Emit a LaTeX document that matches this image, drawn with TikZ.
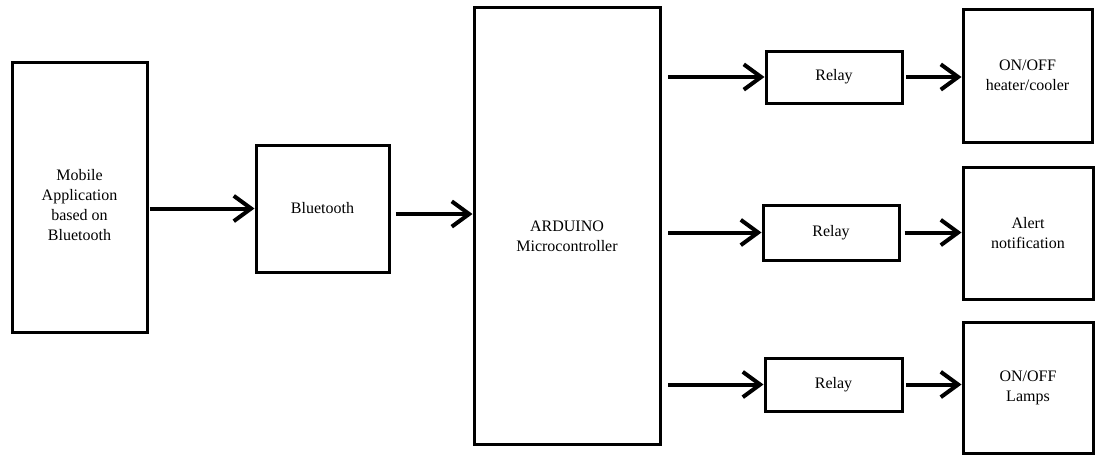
\documentclass[tikz,border=0pt]{standalone}
\usepackage{fontspec}
\setmainfont{Liberation Serif}
\usetikzlibrary{arrows.meta}
\newcommand{\px}{0.75pt}

\begin{document}
\begin{tikzpicture}[x=0.75pt, y=-0.75pt, line cap=butt,
    font=\fontsize{12}{15}\selectfont,
    block/.style={draw, line width=2.25pt, align=center, inner sep=0pt},
    flow/.style={line width=3pt, -{Straight Barb[length=13pt, width=19pt]}}]
  \useasboundingbox (0,0) rectangle (1095,454);
  % input side
  \node[block, minimum width=135*\px, minimum height=270*\px] (mobile) at (79.5,197) {};
  \node[align=center] (mobiletxt) at ([yshift=-6pt]mobile.center)
    {Mobile\\Application\\based on\\Bluetooth};
  \node[block, minimum width=133*\px, minimum height=127*\px] (bt) at (322.5,208.5) {Bluetooth};
  % controller
  \node[block, minimum width=186*\px, minimum height=437*\px] (ard) at (567,225.5) {};
  \node[align=center] (ardtxt) at ([yshift=-8pt]ard.center) {ARDUINO\\Microcontroller};
  % relays
  \node[block, minimum width=136*\px, minimum height=52*\px] (relayA) at (834,77) {Relay};
  \node[block, minimum width=136*\px, minimum height=55*\px] (relayB) at (831,232.5) {Relay};
  \node[block, minimum width=137*\px, minimum height=53*\px] (relayC) at (833.5,384.5) {Relay};
  % loads
  \node[block, minimum width=129*\px, minimum height=133*\px] (heater) at (1027.5,75.5)
    {ON/OFF\\heater/cooler};
  \node[block, minimum width=130*\px, minimum height=132*\px] (alert) at (1028,233)
    {Alert\\ notification};
  \node[block, minimum width=130*\px, minimum height=131*\px] (lamps) at (1028,387.5)
    {ON/OFF\\Lamps};
  % arrows
  \draw[flow, shorten <=1pt] (mobile.east |- bt.west) -- (bt.west);
  \draw[flow, shorten <=4pt] (bt.east |- 0,214) -- (ard.west |- 0,214);
  \draw[flow, shorten <=5pt] (ard.east |- relayA.west) -- (relayA.west);
  \draw[flow, shorten <=5pt] (ard.east |- relayB.west) -- (relayB.west);
  \draw[flow, shorten <=5pt] (ard.east |- relayC.west) -- (relayC.west);
  \draw[flow, shorten <=2pt] (relayA.east) -- (heater.west |- relayA.east);
  \draw[flow, shorten <=3pt] (relayB.east) -- (alert.west |- relayB.east);
  \draw[flow, shorten <=2pt] (relayC.east) -- (lamps.west |- relayC.east);
\end{tikzpicture}
\end{document}
